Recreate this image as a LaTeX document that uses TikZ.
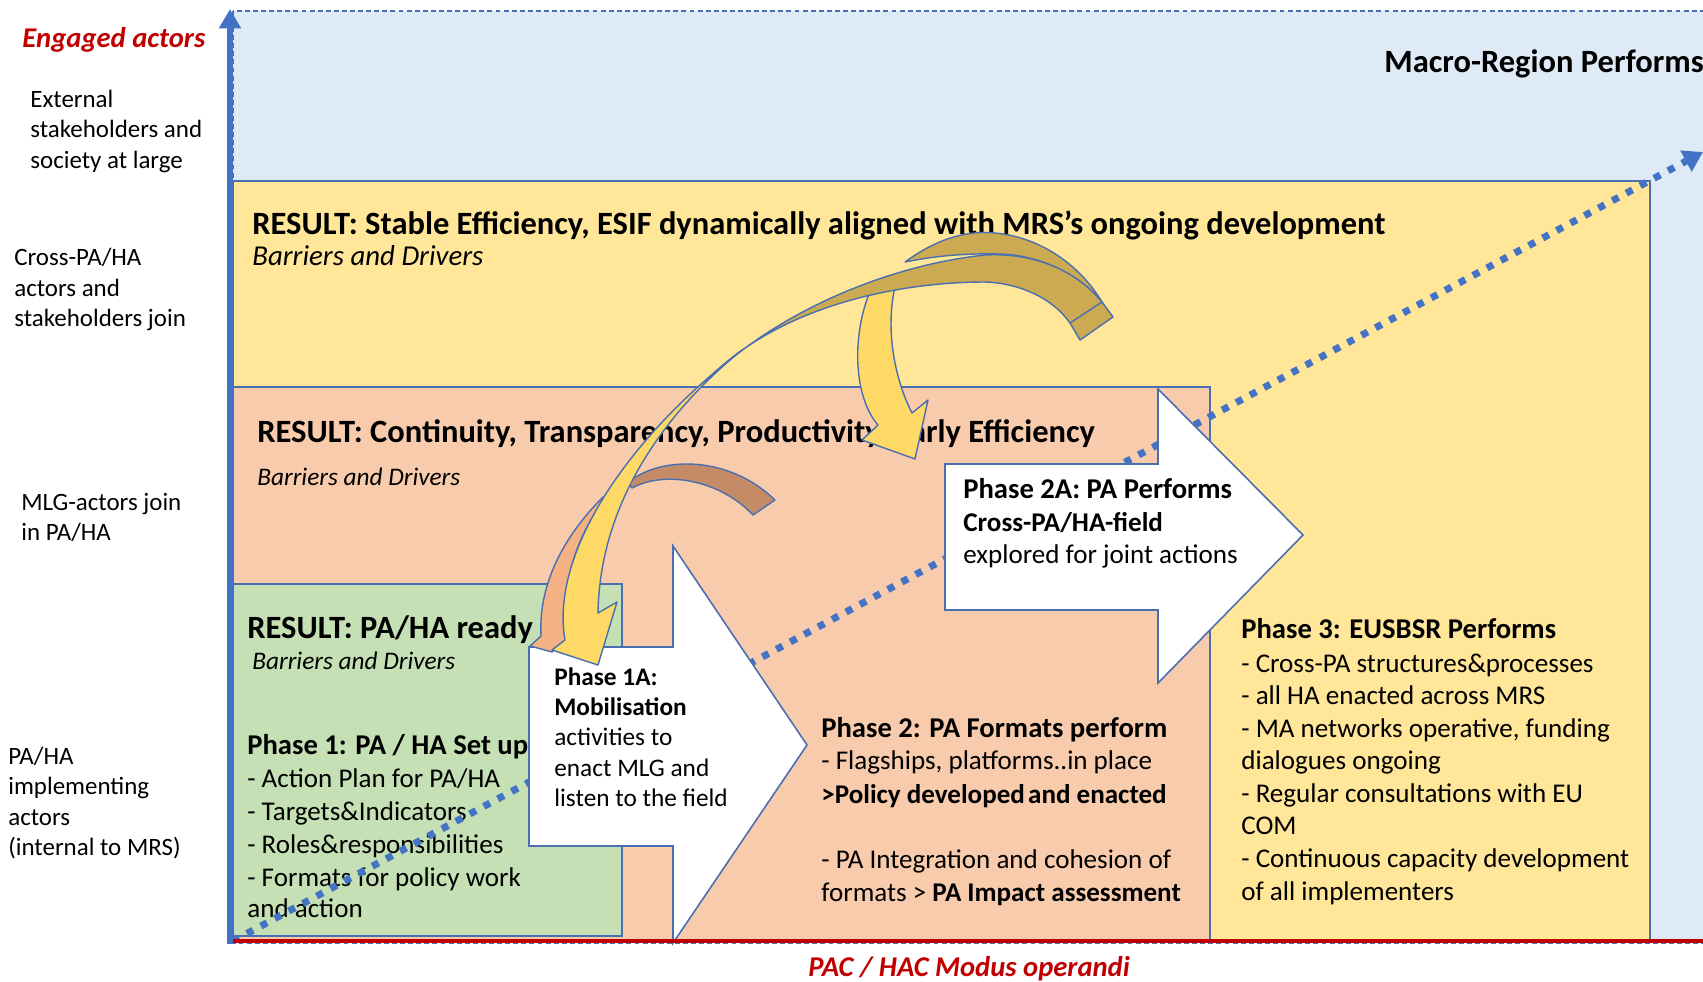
\documentclass[tikz,border=0pt]{standalone}
\usepackage{fontspec}
\setmainfont{Carlito}
\usetikzlibrary{arrows.meta}
\definecolor{bgblue}{HTML}{DEEBF7}
\definecolor{boxyellow}{HTML}{FFE699}
\definecolor{boxsalmon}{HTML}{F8CBAD}
\definecolor{boxgreen}{HTML}{C5E0B4}
\definecolor{boxblue}{HTML}{4A6FB0}
\definecolor{axisblue}{HTML}{4472C4}
\definecolor{axred}{HTML}{C00000}
\definecolor{gold}{HTML}{CCAA52}
\definecolor{ylw}{HTML}{FFD966}
\definecolor{orng}{HTML}{F4B183}
\definecolor{tan}{HTML}{C48B66}
\tikzset{
  box/.style={draw=boxblue, line width=0.9pt},
  tx/.style={anchor=base west, inner sep=0pt},
  lbl/.style={tx, font=\fontsize{14.2}{17}\selectfont},
  ttl/.style={tx, font=\fontsize{18.5}{22}\selectfont\bfseries},
  bdA/.style={tx, font=\fontsize{16.4}{19}\selectfont\itshape},
  bdB/.style={tx, font=\fontsize{14.4}{17}\selectfont\itshape},
  body/.style={tx, font=\fontsize{15.4}{18}\selectfont},
  bodyb/.style={tx, font=\fontsize{15.4}{18}\selectfont\bfseries},
  head/.style={tx, font=\fontsize{16.3}{19}\selectfont\bfseries},
  small/.style={tx, font=\fontsize{14.4}{17}\selectfont},
  smallb/.style={tx, font=\fontsize{14.4}{17}\selectfont\bfseries},
  redlbl/.style={tx, text=axred, font=\fontsize{16.3}{19}\selectfont\bfseries\itshape},
  blockarrow/.style={draw=boxblue, fill=white, line width=0.9pt, line join=miter},
  curvearrow/.style={draw=boxblue, line width=0.8pt, line join=round},
  dotline/.style={draw=axisblue, line width=4pt, dash pattern=on 4pt off 5pt,
     -{Triangle[width=13pt,length=11pt]}},
}
\begin{document}
\begin{tikzpicture}[x=0.02cm,y=-0.02cm]
\useasboundingbox (0,0) rectangle (1703,981);
\fill[white] (0,0) rectangle (1703,981);
% background and boxes
\draw[draw=boxblue, line width=0.6pt, dash pattern=on 2.8pt off 1.8pt, fill=bgblue] (233,11) rectangle (1730,943);
\draw[box, fill=boxyellow] (233,181) rectangle (1650,941);
\draw[box, fill=boxsalmon] (233,387) rectangle (1210,941);
\draw[box, fill=boxgreen] (233,584) rectangle (622,936);

% texts in boxes
\node[ttl] (macro) at (1384,72) {Macro-Region Performs};
\node[ttl] (res1) at (252,234) {RESULT: Stable Efficiency, ESIF dynamically aligned with MRS’s ongoing development};
\node[bdA] (bd1) at (252,265) {Barriers and Drivers};
\node[ttl] (res2) at (257,442) {RESULT: Continuity, Transparency, Productivity, Early Efficiency};
\node[bdB] (bd2) at (257,485) {Barriers and Drivers};
\node[ttl] (res3) at (247,638) {RESULT: PA/HA ready};
\node[bdB] (bd3) at (252,669) {Barriers and Drivers};

\node[head] (p1h) at (247,754) {Phase 1: PA / HA Set up};
\node[body] (p1a) at (247,787) {- Action Plan for PA/HA};
\node[body] (p1b) at (247,820) {- Targets\&Indicators};
\node[body] (p1c) at (247,853) {- Roles\&responsibilities};
\node[body] (p1d) at (247,886) {- Formats for policy work};
\node[body] (p1e) at (247,917) {and action};

\node[head] (p2h) at (821,737) {Phase 2: PA Formats perform};
\node[body] (p2a) at (821,769) {- Flagships, platforms..in place};
\node[bodyb] (p2b) at (821,803) {>Policy developed\hspace{0.12em}and enacted};
\node[body] (p2c) at (821,868) {- PA Integration and cohesion of};
\node[body] (p2d) at (821,901) {formats > \textbf{PA Impact assessment}};

\node[head] (p3h) at (1241,638) {Phase 3: EUSBSR Performs};
\node[body] (p3a) at (1241,672) {- Cross-PA structures\&processes};
\node[body] (p3b) at (1241,704) {- all HA enacted across MRS};
\node[body] (p3c) at (1241,737) {- MA networks operative, funding};
\node[body] (p3d) at (1241,769) {dialogues ongoing};
\node[body] (p3e) at (1241,802) {- Regular consultations with EU};
\node[body] (p3f) at (1241,834) {COM};
\node[body] (p3g) at (1241,867) {- Continuous capacity development};
\node[body] (p3h2) at (1241,900) {of all implementers};

% dotted diagonal
\coordinate (dstart) at (233,941);
\coordinate (dend) at (1703,152);
\draw[dotline] (dstart) -- (dend);

% block arrows
\draw[blockarrow] (529,647) -- (673,647) -- (673,546) -- (807,745) -- (673,943) -- (673,846) -- (529,846) -- cycle;
\node[smallb] (a1a) at (554,685) {Phase 1A:};
\node[smallb] (a1b) at (554,715) {Mobilisation};
\node[small] (a1c) at (554,745) {activities to};
\node[small] (a1d) at (554,776) {enact MLG and};
\node[small] (a1e) at (554,806) {listen to the field};

\draw[blockarrow] (945,464) -- (1158,464) -- (1158,389) -- (1303,535) -- (1158,683) -- (1158,610) -- (945,610) -- cycle;
\node[head] (a2a) at (963,498) {Phase 2A: PA Performs};
\node[bodyb] (a2b) at (963,531) {Cross-PA/HA-field};
\node[body] (a2c) at (963,563) {explored for joint actions};

% curved arrows
\filldraw[curvearrow, fill=tan] (628,483) .. controls (655,458) and (725,452) .. (775,500) -- (753,515)
   .. controls (720,480) and (665,470) .. (632,488) -- cycle;
\filldraw[curvearrow, fill=orng] (603,497) .. controls (568,532) and (538,580) .. (541,636) -- (530,646)
   -- (552,652) -- (566,640) .. controls (562,590) and (572,540) .. (607,497) -- cycle;
\filldraw[curvearrow, fill=ylw] (742,350) .. controls (680,400) and (600,490) .. (598,613)
   -- (617,602) -- (598,665) -- (552,650) -- (565,640)
   .. controls (550,555) and (625,440) .. (742,350) -- cycle;
\filldraw[curvearrow, fill=ylw] (872,287) .. controls (852,330) and (852,395) .. (878,425) -- (862,440)
   -- (915,459) -- (928,400) -- (912,413) .. controls (895,380) and (885,330) .. (895,287) -- cycle;
\filldraw[curvearrow, fill=gold] (905,262) .. controls (935,240) and (965,230) .. (995,233)
   .. controls (1040,237) and (1080,265) .. (1102,302) .. controls (1080,275) and (1040,255) .. (1000,254)
   .. controls (960,253) and (930,257) .. (905,262) -- cycle;
\filldraw[curvearrow, fill=gold] (707,380) .. controls (780,310) and (890,265) .. (985,255)
   .. controls (1040,252) and (1080,275) .. (1102,302) -- (1113,317) -- (1080,340) -- (1070,323)
   .. controls (1050,295) and (1015,283) .. (985,282) .. controls (900,282) and (780,305) .. (707,380) -- cycle;
\draw[curvearrow] (1070,323) -- (1102,302);

% axes
\draw[axred, line width=2.4pt] (229,941) -- (1703,941);
\draw[axisblue, line width=3.4pt, -{Triangle[width=12pt,length=11pt]}] (230,944) -- (230,9);

% axis labels
\node[redlbl] (ylab) at (22,47) {Engaged actors};
\node[redlbl] (xlab) at (808,976) {PAC / HAC Modus operandi};

% left labels
\node[lbl] (l1a) at (30,107) {External};
\node[lbl] (l1b) at (30,137) {stakeholders and};
\node[lbl] (l1c) at (30,168) {society at large};
\node[lbl] (l2a) at (14,265) {Cross-PA/HA};
\node[lbl] (l2b) at (14,296) {actors and};
\node[lbl] (l2c) at (14,326) {stakeholders join};
\node[lbl] (l3a) at (21,510) {MLG-actors join};
\node[lbl] (l3b) at (21,540) {in PA/HA};
\node[lbl] (l4a) at (8,764) {PA/HA};
\node[lbl] (l4b) at (8,794) {implementing};
\node[lbl] (l4c) at (8,825) {actors};
\node[lbl] (l4d) at (8,855) {(internal to MRS)};
\end{tikzpicture}
\end{document}
